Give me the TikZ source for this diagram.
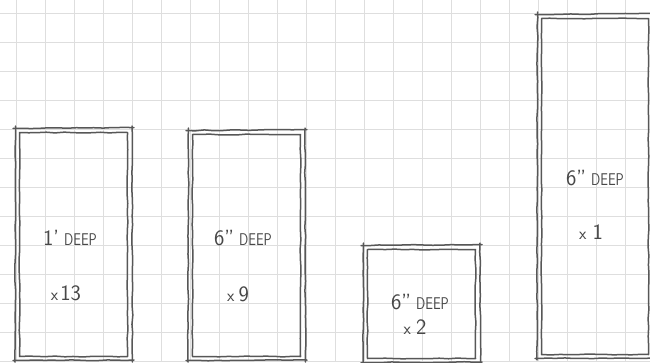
\documentclass[tikz,border=0pt]{standalone}
\usepackage{fontspec}
\usepackage{graphicx}
\usetikzlibrary{decorations.pathmorphing}
\newcommand\skbox[4]{%
  \draw[sketch] (#1-2,#2+0.5) -- (#3+2,#2-0.5);
  \draw[sketch] (#3,#2-2) -- (#3+0.5,#4+2);
  \draw[sketch] (#3+2,#4) -- (#1-2,#4+0.5);
  \draw[sketch] (#1,#4+2) -- (#1+0.5,#2-2);
  \draw[sketch] (#1+4.5,#2+4.5) rectangle (#3-4.5,#4-3.5);}
\newcommand\dpth[1]{{\fontsize{22}{22}\selectfont #1}\hspace{5pt}{\fontsize{17}{17}\selectfont\scalebox{0.8}[1]{DEEP}}}
\newcommand\cnt[2]{{\fontsize{17}{17}\selectfont x}\hspace{#2}{\fontsize{22}{22}\selectfont #1}}
\begin{document}
\begin{tikzpicture}[x=1pt,y=-1pt,
  gridline/.style={draw=black!13,line width=0.9pt},
  sketch/.style={draw=black!66,line width=1.5pt,line join=round,line cap=round,
    decorate,decoration={random steps,segment length=9pt,amplitude=0.45pt}},
  lbl/.style={text=black!72,font=\sffamily,inner sep=0pt},
]
\pgfmathsetseed{7}
\useasboundingbox (0,0) rectangle (650,362);
\fill[white] (0,0) rectangle (650,362);
\foreach \i in {0,...,22} \draw[gridline] ({16+29*\i},0) -- ({16+29*\i},362);
\foreach \j in {0,...,12} \draw[gridline] (0,{13+29*\j}) -- (650,{13+29*\j});
% boxes
\skbox{15}{128}{132}{360}
\skbox{188}{130}{305}{360}
\skbox{363}{245}{480}{362}
\skbox{537}{14}{653}{358}
% labels
\node[lbl] (d1) at (70,238) {\dpth{1'}};
\node[lbl] (c1) at (66,293) {\cnt{13}{2pt}};
\node[lbl] (d2) at (243,238) {\dpth{6"}};
\node[lbl] (c2) at (238,294) {\cnt{9}{4pt}};
\node[lbl] (d3) at (420,302) {\dpth{6"}};
\node[lbl] (c3) at (415,327) {\cnt{2}{5pt}};
\node[lbl] (d4) at (595,178) {\dpth{6"}};
\node[lbl] (c4) at (591,232) {\cnt{1}{6pt}};
\end{tikzpicture}
\end{document}
